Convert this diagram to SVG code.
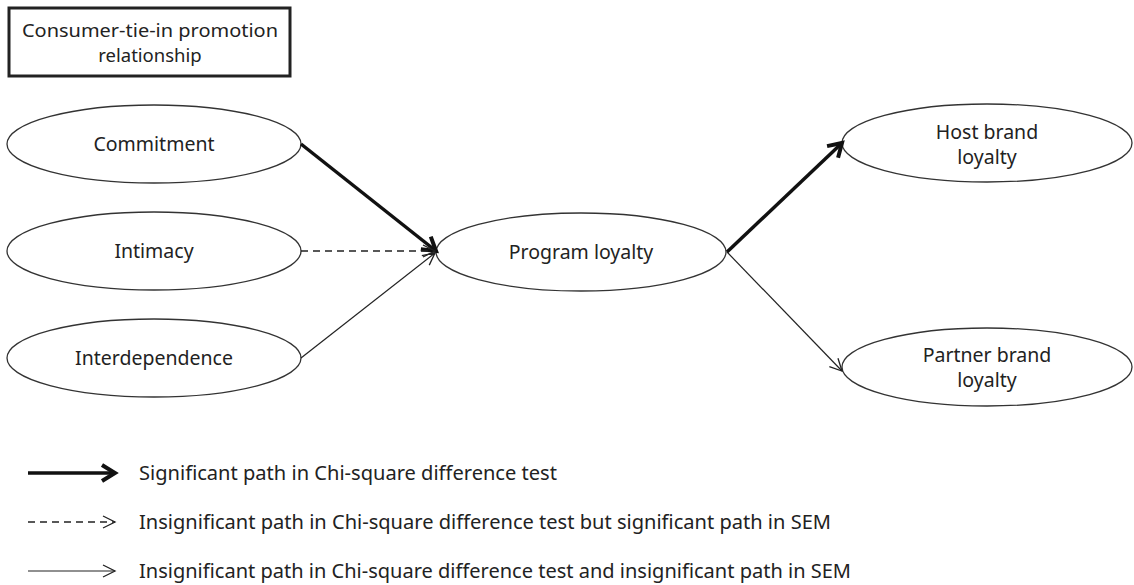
<svg xmlns="http://www.w3.org/2000/svg" width="1134" height="585" viewBox="0 0 1134 585">
<style>
.node{fill:#fff;stroke:#333;stroke-width:1.3}
.t{font-family:"Noto Sans","Open Sans",sans-serif;font-size:19.5px;fill:#222;text-anchor:middle}
.tt{font-family:"Noto Sans","Open Sans",sans-serif;font-size:18.5px;fill:#222;text-anchor:middle}
.lt{font-family:"Noto Sans","Open Sans",sans-serif;font-size:19px;fill:#222}
.thick{stroke:#111;stroke-width:3.5;fill:none}
.thin{stroke:#222;stroke-width:1.2;fill:none}
.dash{stroke:#222;stroke-width:1.3;fill:none;stroke-dasharray:7 5}
</style>
<defs>
<marker id="ah" markerUnits="userSpaceOnUse" markerWidth="24" markerHeight="24" refX="20" refY="12" orient="auto" viewBox="0 0 24 24">
<path d="M7,4 L20,12 L7,20" fill="none" stroke="#111" stroke-width="4" stroke-linejoin="miter"/>
</marker>
<marker id="ao" markerUnits="userSpaceOnUse" markerWidth="24" markerHeight="24" refX="20" refY="12" orient="auto" viewBox="0 0 24 24">
<path d="M8,6 L20,12 L8,18" fill="none" stroke="#222" stroke-width="1.3"/>
</marker>
</defs>
<rect width="1134" height="585" fill="#fff"/>
<g id="title">
<rect x="9" y="8" width="281" height="68" fill="#fff" stroke="#222" stroke-width="3"/>
<text class="tt" x="150" y="37" textLength="256" lengthAdjust="spacingAndGlyphs">Consumer-tie-in promotion</text>
<text class="tt" x="150" y="62">relationship</text>
</g>
<g id="commitment">
<ellipse class="node" cx="154" cy="144" rx="147" ry="39"/>
<text class="t" x="154" y="151">Commitment</text>
</g>
<g id="intimacy">
<ellipse class="node" cx="154" cy="251" rx="147" ry="39"/>
<text class="t" x="154" y="258">Intimacy</text>
</g>
<g id="interdependence">
<ellipse class="node" cx="154" cy="358" rx="147" ry="39"/>
<text class="t" x="154" y="365">Interdependence</text>
</g>
<g id="program">
<ellipse class="node" cx="581" cy="252" rx="145" ry="39"/>
<text class="t" x="581" y="259">Program loyalty</text>
</g>
<g id="host">
<ellipse class="node" cx="987" cy="143" rx="145" ry="39"/>
<text class="t" x="987" y="139">Host brand</text>
<text class="t" x="987" y="164">loyalty</text>
</g>
<g id="partner">
<ellipse class="node" cx="987" cy="367" rx="145" ry="39"/>
<text class="t" x="987" y="362">Partner brand</text>
<text class="t" x="987" y="387">loyalty</text>
</g>
<g id="connectors">
<line class="thick" x1="301" y1="144" x2="436" y2="251" marker-end="url(#ah)"/>
<line class="dash" x1="301" y1="251" x2="435" y2="251" marker-end="url(#ao)"/>
<line class="thin" x1="301" y1="358" x2="435" y2="253" marker-end="url(#ao)"/>
<line class="thick" x1="727" y1="252" x2="842" y2="143" marker-end="url(#ah)"/>
<line class="thin" x1="727" y1="252" x2="842" y2="371" marker-end="url(#ao)"/>
</g>
<g id="legend">
<line class="thick" x1="28" y1="473" x2="115" y2="473" marker-end="url(#ah)"/>
<line class="dash" x1="28" y1="522" x2="115" y2="522" stroke-dasharray="7 4" marker-end="url(#ao)"/>
<line class="thin" x1="28" y1="571" x2="115" y2="571" marker-end="url(#ao)"/>
<text class="lt" x="139" y="480" textLength="418" lengthAdjust="spacingAndGlyphs">Significant path in Chi-square difference test</text>
<text class="lt" x="139" y="529" textLength="692" lengthAdjust="spacingAndGlyphs">Insignificant path in Chi-square difference test but significant path in SEM</text>
<text class="lt" x="139" y="578" textLength="712" lengthAdjust="spacingAndGlyphs">Insignificant path in Chi-square difference test and insignificant path in SEM</text>
</g>
</svg>
